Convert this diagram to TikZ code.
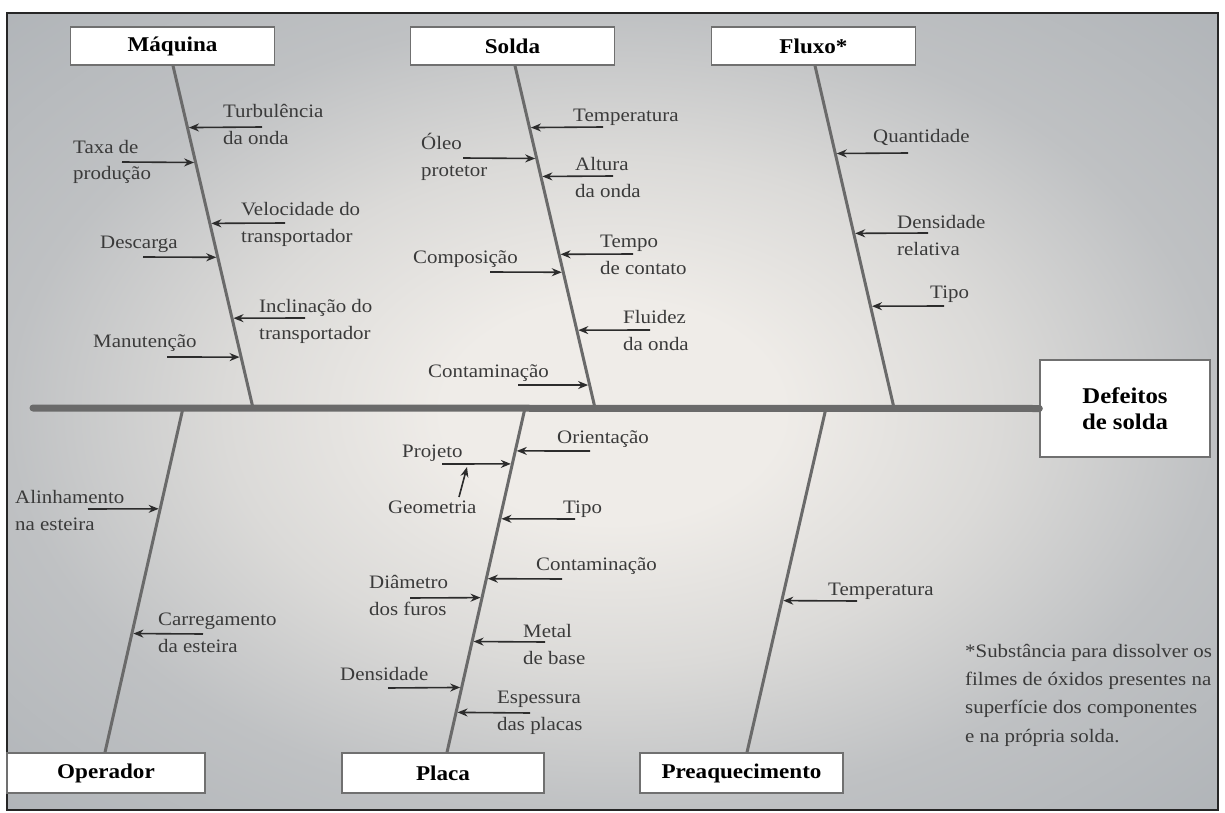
\documentclass[tikz,border=0pt]{standalone}
\usepackage{fontspec}
\setmainfont{Liberation Serif}[FakeStretch=1.1]
\usetikzlibrary{arrows.meta,calc}

\definecolor{bonegray}{HTML}{6A6A6A}
\definecolor{labelink}{HTML}{3A3A3A}
\definecolor{arrowink}{HTML}{2C2C2C}
\definecolor{boxedge}{HTML}{707070}
\definecolor{bgA}{HTML}{EFECE8}
\definecolor{bgB}{HTML}{DBDAD8}
\definecolor{bgC}{HTML}{BFC1C3}
\definecolor{bgD}{HTML}{B0B4B8}

% soft light centre fading to grey towards the frame
\pgfdeclareradialshading{backdrop}{\pgfpoint{0bp}{0bp}}{%
  color(0bp)=(bgA); color(7bp)=(bgA); color(16bp)=(bgB);
  color(25bp)=(bgC); color(36bp)=(bgD); color(50bp)=(bgD)}

\tikzset{
  catbox/.style={draw=boxedge, line width=1.4pt, fill=white, inner sep=0pt,
    font=\fontsize{21}{26}\selectfont\bfseries, text=black},
  spine/.style={line width=7pt, draw=bonegray, line cap=round},
  bone/.style={line width=3pt, draw=bonegray},
  twig/.style={line width=1.6pt, draw=arrowink, shorten >=1.5pt,
    -{Stealth[length=10pt,width=8pt]}},
  % labels are placed by the baseline of their last line
  lab/.style={anchor=base west, inner sep=0pt, align=left, text=labelink,
    font=\fontsize{19}{27}\selectfont},
}

% cause arrow onto an upper bone: name, bone, y, tail x
\newcommand\upcause[4]{%
  \coordinate (#1) at (#4,#3);
  \draw[twig] (#1) -- ($(#2T)!{(#3-65)/343}!(#2S)$);}
% cause arrow onto a lower bone: name, bone, y, tail x
\newcommand\lowcause[4]{%
  \coordinate (#1) at (#4,#3);
  \draw[twig] (#1) -- ($(#2S)!{(#3-408)/345}!(#2B)$);}

\begin{document}
\begin{tikzpicture}[x=1pt, y=-1pt]
\useasboundingbox (0,0) rectangle (1225,813);
\fill[white] (0,0) rectangle (1225,813);
\shade[shading=backdrop] (7,13) rectangle (1218,810);
\draw[line width=2pt, black!85] (7,13) rectangle (1218,810);

% category boxes
\node[catbox, minimum width=204pt, minimum height=38pt] (maq) at (172.5,46) {Máquina};
\node[catbox, minimum width=204pt, minimum height=38pt] (sol) at (512.5,46) {Solda};
\node[catbox, minimum width=204pt, minimum height=38pt] (flu) at (813.5,46) {Fluxo*};
\node[catbox, minimum width=198pt, minimum height=40pt] (ope) at (106,773) {Operador};
\node[catbox, minimum width=202pt, minimum height=40pt] (pla) at (443,773) {Placa};
\node[catbox, minimum width=203pt, minimum height=40pt] (pre) at (741.5,773) {Preaquecimento};
\node[catbox, minimum width=170pt, minimum height=97pt, align=center,
  font=\fontsize{22.5}{26}\selectfont\bfseries] (eff) at (1125,408.5) {Defeitos\\de solda};

% spine
\coordinate (tail) at (33,408);
\draw[spine] (tail) -- (eff.west);

% bones
\coordinate (mT) at ([xshift=0.5pt]maq.south);  \coordinate (mS) at (253,408);
\coordinate (sT) at ([xshift=2.5pt]sol.south);  \coordinate (sS) at (595,408);
\coordinate (fT) at ([xshift=1.5pt]flu.south);  \coordinate (fS) at (894,408);
\coordinate (oS) at (183,408); \coordinate (oB) at ([xshift=-1pt]ope.north);
\coordinate (pS) at (525,408); \coordinate (pB) at ([xshift=4pt]pla.north);
\coordinate (hS) at (826,408); \coordinate (hB) at ([xshift=5.5pt]pre.north);
\draw[bone] (mT) -- (mS);
\draw[bone] (sT) -- (sS);
\draw[bone] (fT) -- (fS);
\draw[bone] (oS) -- (oB);
\draw[bone] (pS) -- (pB);
\draw[bone] (hS) -- (hB);

% Máquina
\node[lab] (tur) at (223,145) {Turbulência\\da onda};   \upcause{turA}{m}{127}{262}
\node[lab] (tax) at (73,180)  {Taxa de\\produção};      \upcause{taxA}{m}{162}{122}
\node[lab] (vel) at (241,242) {Velocidade do\\transportador}; \upcause{velA}{m}{223}{285}
\node[lab] (des) at (100,248) {Descarga};               \upcause{desA}{m}{257}{143}
\node[lab] (inc) at (259,339) {Inclinação do\\transportador}; \upcause{incA}{m}{318}{305}
\node[lab] (man) at (93,347)  {Manutenção};             \upcause{manA}{m}{357}{167}

% Solda
\node[lab] (tem) at (573,122) {Temperatura};            \upcause{temA}{s}{127}{603}
\node[lab] (ole) at (421,177) {Óleo\\protetor};         \upcause{oleA}{s}{158}{463}
\node[lab] (alt) at (575,197) {Altura\\da onda};        \upcause{altA}{s}{176}{613}
\node[lab] (tmp) at (600,274) {Tempo\\de contato};      \upcause{tmpA}{s}{254}{633}
\node[lab] (cmp) at (413,263) {Composição};             \upcause{cmpA}{s}{272}{490}
\node[lab] (fld) at (623,350) {Fluidez\\da onda};       \upcause{fldA}{s}{330}{650}
\node[lab] (con) at (428,377) {Contaminação};           \upcause{conA}{s}{385}{518}

% Fluxo
\node[lab] (qua) at (873,143) {Quantidade};             \upcause{quaA}{f}{153}{908}
\node[lab] (den) at (897,255) {Densidade\\relativa};    \upcause{denA}{f}{233}{928}
\node[lab] (tip) at (930,298) {Tipo};                   \upcause{tipA}{f}{306}{944}

% Operador
\node[lab] (ali) at (15,530)  {Alinhamento\\na esteira};  \lowcause{aliA}{o}{509}{88}
\node[lab] (car) at (158,652) {Carregamento\\da esteira}; \lowcause{carA}{o}{634}{203}

% Placa
\node[lab] (ori) at (557,443) {Orientação};             \lowcause{oriA}{p}{451}{590}
\node[lab] (pro) at (402,457) {Projeto};                \lowcause{proA}{p}{464}{442}
\node[lab] (geo) at (388,513) {Geometria};
\coordinate (geoA) at (459,497); \coordinate (geoH) at (467,467);
\draw[twig, shorten >=0pt] (geoA) -- (geoH);
\node[lab] (tpo) at (563,513) {Tipo};                   \lowcause{tpoA}{p}{519}{575}
\node[lab] (cnt) at (536,570) {Contaminação};           \lowcause{cntA}{p}{579}{562}
\node[lab] (dia) at (369,615) {Diâmetro\\dos furos};    \lowcause{diaA}{p}{598}{410}
\node[lab] (met) at (523,664) {Metal\\de base};         \lowcause{metA}{p}{642}{545}
\node[lab] (dns) at (340,680) {Densidade};              \lowcause{dnsA}{p}{688}{388}
\node[lab] (esp) at (497,730) {Espessura\\das placas};  \lowcause{espA}{p}{713}{530}

% Preaquecimento
\node[lab] (tpr) at (828,595) {Temperatura};            \lowcause{tprA}{h}{601}{857}

% footnote
\node[lab, font=\fontsize{19}{28.3}\selectfont] (note) at (965,742)
  {*Substância para dissolver os\\filmes de óxidos presentes na\\superfície dos componentes\\e na própria solda.};
\end{tikzpicture}
\end{document}
